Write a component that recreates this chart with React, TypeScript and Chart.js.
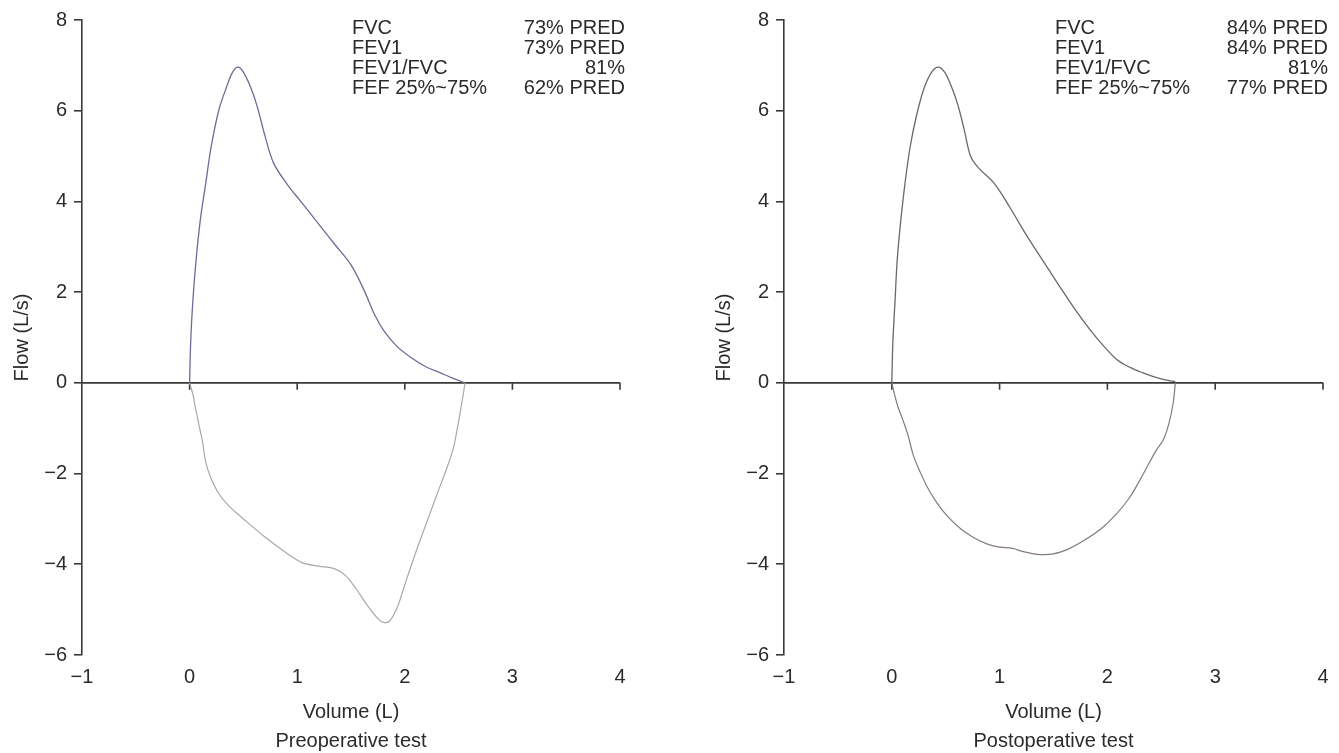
import React, { useEffect, useRef } from 'react';
import { Chart, registerables } from 'chart.js';

Chart.register(...registerables);

// ---------- data ----------
const X_TICKS = [-1, 0, 1, 2, 3, 4];
const Y_TICKS = [-6, -4, -2, 0, 2, 4, 6, 8];

const STAT_LABELS = ['FVC', 'FEV1', 'FEV1/FVC', 'FEF 25%~75%'];
const PRE_STATS = ['73% PRED', '73% PRED', '81%', '62% PRED'];
const POST_STATS = ['84% PRED', '84% PRED', '81%', '77% PRED'];

const PRE_EXP_VOL = [0, 0.01, 0.03, 0.06, 0.1, 0.15, 0.2, 0.27, 0.34, 0.4, 0.45, 0.5, 0.57, 0.63, 0.7, 0.78, 0.9, 1.05, 1.2, 1.35, 1.5, 1.62, 1.72, 1.8, 1.92, 2.05, 2.2, 2.33, 2.45, 2.56];
const PRE_EXP_FLOW = [0, 0.9, 1.8, 2.7, 3.6, 4.4, 5.2, 6.0, 6.5, 6.85, 6.96, 6.85, 6.5, 6.08, 5.45, 4.85, 4.4, 3.95, 3.5, 3.05, 2.6, 2.05, 1.5, 1.17, 0.82, 0.57, 0.35, 0.22, 0.1, 0.0];

const PRE_INSP_VOL = [0, 0.03, 0.05, 0.08, 0.12, 0.15, 0.19, 0.26, 0.36, 0.5, 0.7, 0.9, 1.05, 1.2, 1.35, 1.45, 1.55, 1.65, 1.75, 1.8, 1.86, 1.93, 2.0, 2.1, 2.2, 2.3, 2.38, 2.45, 2.5, 2.54, 2.56];
const PRE_INSP_FLOW = [0, -0.25, -0.5, -0.85, -1.3, -1.75, -2.05, -2.4, -2.7, -3.0, -3.4, -3.75, -3.97, -4.04, -4.1, -4.25, -4.55, -4.9, -5.2, -5.28, -5.25, -4.95, -4.45, -3.75, -3.1, -2.45, -1.95, -1.45, -0.85, -0.3, 0];

const POST_EXP_VOL = [0, 0.01, 0.03, 0.05, 0.08, 0.12, 0.17, 0.23, 0.3, 0.37, 0.43, 0.49, 0.55, 0.61, 0.67, 0.73, 0.8, 0.95, 1.1, 1.25, 1.4, 1.55, 1.7, 1.84, 1.97, 2.09, 2.21, 2.33, 2.45, 2.55, 2.63];
const POST_EXP_FLOW = [0, 0.9, 1.8, 2.7, 3.5, 4.35, 5.2, 5.9, 6.5, 6.85, 6.96, 6.85, 6.55, 6.15, 5.6, 5.0, 4.75, 4.4, 3.85, 3.25, 2.7, 2.15, 1.62, 1.17, 0.8, 0.51, 0.34, 0.22, 0.12, 0.06, 0.03];

const POST_INSP_VOL = [0, 0.03, 0.06, 0.1, 0.15, 0.2, 0.26, 0.33, 0.42, 0.52, 0.63, 0.75, 0.88, 1.0, 1.12, 1.22, 1.35, 1.5, 1.65, 1.8, 1.95, 2.08, 2.2, 2.3, 2.38, 2.45, 2.52, 2.57, 2.61, 2.63];
const POST_INSP_FLOW = [0, -0.3, -0.55, -0.8, -1.15, -1.6, -1.95, -2.3, -2.65, -2.95, -3.2, -3.4, -3.55, -3.62, -3.65, -3.72, -3.78, -3.77, -3.65, -3.45, -3.2, -2.9, -2.55, -2.15, -1.8, -1.5, -1.25, -0.9, -0.45, 0];

// ---------- styling ----------
const FONT = '"Liberation Sans", Arial, Helvetica, sans-serif';
const AXIS_COLOR = '#3a3a3a';
const TEXT_COLOR = '#2b2b2b';
const FONT_SIZE = 20;
const CANVAS_H = 756;

const zip = (v: number[], f: number[]) => v.map((x, i) => ({ x, y: f[i] }));
const fmt = (v: number) => (v < 0 ? '\u2212' + Math.abs(v) : String(v));

const zeroAxisPlugin = {
  id: 'zeroAxis',
  beforeDatasetsDraw(chart: any) {
    const { ctx, scales } = chart;
    const x = scales.x;
    const y = scales.y;
    const y0 = y.getPixelForValue(0);
    ctx.save();
    ctx.strokeStyle = AXIS_COLOR;
    ctx.lineWidth = 1.6;
    ctx.beginPath();
    ctx.moveTo(x.getPixelForValue(X_TICKS[0]), y0);
    ctx.lineTo(x.getPixelForValue(X_TICKS[X_TICKS.length - 1]), y0);
    X_TICKS.slice(1).forEach((v) => {
      const px = x.getPixelForValue(v);
      ctx.moveTo(px, y0);
      ctx.lineTo(px, y0 + 7);
    });
    ctx.stroke();
    ctx.restore();
  },
};

const statsPlugin = {
  id: 'stats',
  afterDraw(chart: any, _args: any, opts: any) {
    const { ctx, chartArea } = chart;
    const right = chartArea.right + 5;
    const left = right - 273;
    ctx.save();
    ctx.font = `${FONT_SIZE}px ${FONT}`;
    ctx.fillStyle = TEXT_COLOR;
    ctx.textBaseline = 'middle';
    STAT_LABELS.forEach((lab: string, i: number) => {
      const yy = chartArea.top + 8 + i * 20;
      ctx.textAlign = 'left';
      ctx.fillText(lab, left, yy);
      ctx.textAlign = 'right';
      ctx.fillText(opts.values[i], right, yy);
    });
    ctx.restore();
  },
};

type LoopProps = {
  exp: { x: number; y: number }[];
  insp: { x: number; y: number }[];
  values: string[];
  caption: string;
  expColor: string;
  inspColor: string;
  left: number;
  width: number;
  padRight: number;
};

function LoopChart(props: LoopProps) {
  const ref = useRef<HTMLCanvasElement>(null);
  useEffect(() => {
    if (!ref.current) return;
    const font = { family: FONT, size: FONT_SIZE };
    const chart = new Chart(ref.current, {
      type: 'scatter',
      data: {
        datasets: [
          {
            data: props.exp,
            showLine: true,
            borderColor: props.expColor,
            borderWidth: 1.3,
            pointRadius: 0,
            tension: 0.35,
            fill: false,
          },
          {
            data: props.insp,
            showLine: true,
            borderColor: props.inspColor,
            borderWidth: 1.2,
            pointRadius: 0,
            tension: 0.35,
            fill: false,
          },
        ],
      },
      options: {
        responsive: false,
        animation: false,
        devicePixelRatio: 1,
        layout: { padding: { top: 20, right: props.padRight, bottom: 0, left: 0 } },
        plugins: {
          legend: { display: false },
          tooltip: { enabled: false },
          // @ts-ignore
          stats: { values: props.values },
        },
        scales: {
          x: {
            type: 'linear',
            min: X_TICKS[0],
            max: X_TICKS[X_TICKS.length - 1],
            afterBuildTicks: (s: any) => {
              s.ticks = X_TICKS.map((v) => ({ value: v }));
            },
            grid: { display: false, drawTicks: false },
            border: { display: false },
            ticks: { padding: 10, font, color: TEXT_COLOR, maxRotation: 0, callback: (v: any) => fmt(Number(v)) },
            title: {
              display: true,
              text: ['Volume (L)', props.caption],
              font: { family: FONT, size: FONT_SIZE, lineHeight: 1.45 },
              color: TEXT_COLOR,
              padding: 0,
            },
            afterFit: (s: any) => {
              s.height = 101;
            },
          },
          y: {
            type: 'linear',
            min: Y_TICKS[0],
            max: Y_TICKS[Y_TICKS.length - 1],
            afterBuildTicks: (s: any) => {
              s.ticks = Y_TICKS.map((v) => ({ value: v }));
            },
            grid: { drawOnChartArea: false, drawTicks: true, tickLength: 8, color: AXIS_COLOR, lineWidth: 1.6 },
            border: { display: true, color: AXIS_COLOR, width: 1.6 },
            ticks: { padding: 7, font, color: TEXT_COLOR, callback: (v: any) => fmt(Number(v)) },
            title: {
              display: true,
              text: 'Flow (L/s)',
              font: { family: FONT, size: FONT_SIZE },
              color: TEXT_COLOR,
              padding: { top: 10, bottom: 0 },
            },
            afterFit: (s: any) => {
              s.width = 82;
            },
          },
        },
      } as any,
      plugins: [zeroAxisPlugin, statsPlugin],
    });
    return () => chart.destroy();
  }, []);
  return (
    <canvas
      ref={ref}
      width={props.width}
      height={CANVAS_H}
      style={{ position: 'absolute', left: props.left, top: 0, width: props.width, height: CANVAS_H }}
    />
  );
}

export default function App() {
  return (
    <div
      style={{
        position: 'fixed',
        left: 0,
        top: 0,
        width: 1339,
        height: 753,
        overflow: 'hidden',
        background: '#ffffff',
      }}
    >
      <LoopChart
        exp={zip(PRE_EXP_VOL, PRE_EXP_FLOW)}
        insp={zip(PRE_INSP_VOL, PRE_INSP_FLOW)}
        values={PRE_STATS}
        caption="Preoperative test"
        expColor="#6c6c98"
        inspColor="#a8a8a8"
        left={0}
        width={702}
        padRight={82}
      />
      <LoopChart
        exp={zip(POST_EXP_VOL, POST_EXP_FLOW)}
        insp={zip(POST_INSP_VOL, POST_INSP_FLOW)}
        values={POST_STATS}
        caption="Postoperative test"
        expColor="#6e6570"
        inspColor="#857a7c"
        left={702}
        width={637}
        padRight={16}
      />
    </div>
  );
}
